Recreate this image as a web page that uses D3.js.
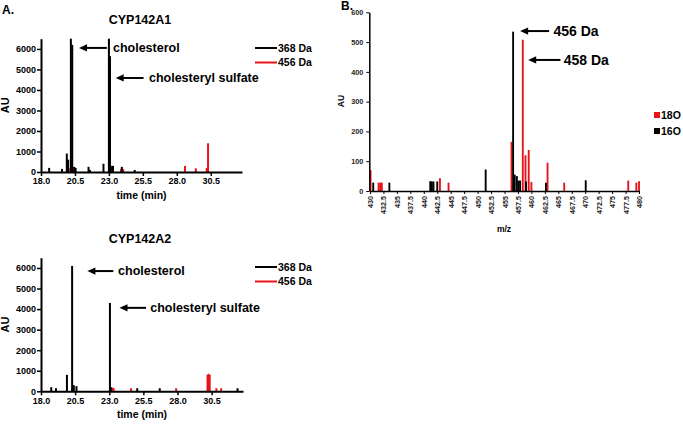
<!DOCTYPE html>
<html><head><meta charset="utf-8">
<script src="https://cdn.jsdelivr.net/npm/d3@7"></script>
<style>body{margin:0;background:#fff}svg{font-family:"Liberation Sans",Arial,sans-serif;font-weight:bold}</style>
</head><body><svg id="c" width="683" height="424"></svg>
<script>
// ---------- DATA ----------
const timeTicks = [18.0, 20.5, 23.0, 25.5, 28.0, 30.5];
const auTicksA = [0, 1000, 2000, 3000, 4000, 5000, 6000];
const seriesNamesA = ["368 Da", "456 Da"];
// CYP142A1 peaks [time (min), AU]
const a1_368 = [[18.6,200],[19.55,150],[19.9,900],[20.0,600],[20.2,6500],[20.3,6200],[20.45,250],[20.55,200],[21.5,250],[21.6,100],[22.6,400],[23.0,6500],[23.08,5650],[23.15,300],[23.3,300],[23.95,250],[24.9,100]];
const a1_456 = [[20.15,200],[20.35,250],[23.9,150],[24.05,150],[28.6,300],[29.4,180],[30.2,200],[30.3,1400]];
// CYP142A2 peaks
const a2_368 = [[18.75,200],[19.1,150],[19.9,800],[20.28,6100],[20.4,300],[20.6,250],[23.05,4300],[23.12,200],[25.05,150],[26.7,150],[32.4,150]];
const a2_456 = [[20.3,200],[20.38,250],[23.25,180],[23.32,150],[24.6,150],[27.9,150],[30.2,800],[30.28,850],[30.36,800],[30.85,150],[31.2,150]];
// Panel B: m/z spectrum
const mzTicks = [430,432.5,435,437.5,440,442.5,445,447.5,450,452.5,455,457.5,460,462.5,465,467.5,470,472.5,475,477.5,480];
const auTicksB = [0,100,200,300,400,500,600];
const seriesNamesB = ["18O", "16O"];
const b_18O = [[430.1,70],[431.6,28],[431.9,28],[432.2,28],[443.0,43],[444.6,28],[456.3,165],[458.4,508],[458.9,120],[459.5,138],[460.0,30],[463.0,95],[466.1,28],[478.0,35],[479.5,28],[480.0,33]];
const b_16O = [[430.6,28],[433.6,28],[441.2,33],[441.5,32],[441.8,32],[442.5,32],[451.5,72],[456.6,535],[456.9,55],[457.3,50],[457.6,35],[457.9,35],[459.0,32],[462.7,28],[470.1,36]];

const colors = {black:"#000", red:"#e8141b"};
const svg = d3.select("#c");

function arrow(g, x, y, tip, tail, textX, label, fs){
  const tx = x(tip[0]), ty = y(tip[1]), hl = 8, hw = 3.6;
  g.append("line").attr("x1",tx+hl-1).attr("y1",ty).attr("x2",x(tail)).attr("y2",ty)
    .attr("stroke","#000").attr("stroke-width",2);
  g.append("path").attr("d",`M${tx},${ty}L${tx+hl},${ty-hw}L${tx+hl},${ty+hw}Z`).attr("fill","#000");
  g.append("text").attr("x",x(textX)).attr("y",ty).attr("dy","0.35em")
    .attr("font-size",fs).text(label);
}

function chrom(cfg){
  const g = svg.append("g");
  const x = d3.scaleLinear().domain([18, 32.8]).range([cfg.left, cfg.right]);
  const y = d3.scaleLinear().domain([0, 6500]).range([cfg.bottom, cfg.top]);
  [[cfg.s456, colors.red],[cfg.s368, colors.black]].forEach(([s,c])=>{
    g.selectAll(null).data(s).enter().append("line")
      .attr("x1",d=>x(d[0])).attr("x2",d=>x(d[0]))
      .attr("y1",y(0)).attr("y2",d=>y(d[1]))
      .attr("stroke",c).attr("stroke-width",2);
  });
  const ya = g.append("g").attr("transform",`translate(${cfg.left},0)`)
    .call(d3.axisLeft(y).tickValues(auTicksA).tickFormat(d3.format("d")).tickSize(4).tickSizeOuter(0).tickPadding(1));
  const xa = g.append("g").attr("transform",`translate(0,${cfg.bottom})`)
    .call(d3.axisBottom(x).tickValues(timeTicks).tickFormat(d3.format(".1f")).tickSize(4).tickSizeOuter(0).tickPadding(2));
  [ya,xa].forEach(a=>{
    a.select(".domain").attr("stroke-width",2);
    a.selectAll(".tick line").attr("stroke-width",1.5);
    a.selectAll("text").attr("font-size",9).attr("font-family","Liberation Sans, Arial").attr("font-weight","bold").attr("fill","#000");
  });
  g.append("text").attr("x",(cfg.left+cfg.right)/2).attr("y",cfg.bottom+27).attr("text-anchor","middle").attr("font-size",10.5).text("time (min)");
  g.append("text").attr("transform",`translate(${cfg.left-32},${(cfg.top+cfg.bottom)/2}) rotate(-90)`).attr("text-anchor","middle").attr("font-size",11).text("AU");
  g.append("text").attr("x",140).attr("y",cfg.top-15).attr("text-anchor","middle").attr("font-size",12.5).text(cfg.title);
  [colors.black, colors.red].forEach((c,i)=>{
    const ly = cfg.legY + i*14.5;
    g.append("line").attr("x1",255).attr("x2",277).attr("y1",ly).attr("y2",ly).attr("stroke",c).attr("stroke-width",2);
    g.append("text").attr("x",278).attr("y",ly).attr("dy","0.35em").attr("font-size",10.5).text(seriesNamesA[i]);
  });
  cfg.ann.forEach(a=>arrow(g,x,y,a.tip,a.tail,a.tx,a.label,12.5));
}

chrom({left:41,right:242,top:38.7,bottom:172,title:"CYP142A1",s368:a1_368,s456:a1_456,legY:48,
  ann:[{label:"cholesterol",tip:[20.8,6050],tail:22.85,tx:23.3},
       {label:"cholesteryl sulfate",tip:[23.5,4585],tail:25.55,tx:25.95}]});
chrom({left:41,right:243,top:257.7,bottom:391.3,title:"CYP142A2",s368:a2_368,s456:a2_456,legY:267,
  ann:[{label:"cholesterol",tip:[21.4,5850],tail:23.3,tx:23.65},
       {label:"cholesteryl sulfate",tip:[23.75,4060],tail:25.7,tx:26.0}]});

svg.append("text").attr("x",2).attr("y",14).attr("font-size",12).text("A.");
svg.append("text").attr("x",341).attr("y",10).attr("font-size",12).text("B.");

// ---------- Panel B ----------
(function(){
  const g = svg.append("g");
  const x = d3.scaleLinear().domain([430,480]).range([370,639]);
  const y = d3.scaleLinear().domain([0,600]).range([191,12.3]);
  const bw = x(430.35)-x(430);
  [[b_18O, colors.red],[b_16O, colors.black]].forEach(([s,c])=>{
    g.selectAll(null).data(s).enter().append("rect")
      .attr("x",d=>x(d[0])-bw/2).attr("width",bw)
      .attr("y",d=>y(d[1])).attr("height",d=>y(0)-y(d[1])).attr("fill",c);
  });
  const ya = g.append("g").attr("transform","translate(369.3,0)")
    .call(d3.axisLeft(y).tickValues(auTicksB).tickSize(3).tickSizeOuter(0).tickPadding(3));
  const xa = g.append("g").attr("transform","translate(0,191)")
    .call(d3.axisBottom(x).tickValues(mzTicks).tickFormat(d=>String(d)).tickSize(3).tickSizeOuter(0));
  [ya,xa].forEach(a=>{
    a.select(".domain").attr("stroke-width",1.5);
    a.selectAll(".tick line").attr("stroke-width",1);
    a.selectAll("text").attr("font-size",7.2).attr("font-family","Liberation Sans, Arial").attr("font-weight","bold").attr("fill","#222");
  });
  xa.selectAll(".tick text").attr("transform","rotate(-90)").attr("text-anchor","end")
    .attr("x",-5).attr("y",0).attr("dy","0.35em");
  g.append("text").attr("x",504).attr("y",232).attr("text-anchor","middle").attr("font-size",8.5).text("m/z");
  g.append("text").attr("transform","translate(344,101) rotate(-90)").attr("text-anchor","middle").attr("font-size",8.5).text("AU");
  [colors.red, colors.black].forEach((c,i)=>{
    const ly = 115 + i*16;
    g.append("rect").attr("x",654).attr("y",ly-3).attr("width",6).attr("height",6).attr("fill",c);
    g.append("text").attr("x",661).attr("y",ly).attr("dy","0.35em").attr("font-size",10.5).text(seriesNamesB[i]);
  });
  arrow(g,x,y,[457.9,537],463.3,464.1,"456 Da",14);
  arrow(g,x,y,[459.4,440],465.4,466,"458 Da",14);
})();
</script></body></html>
